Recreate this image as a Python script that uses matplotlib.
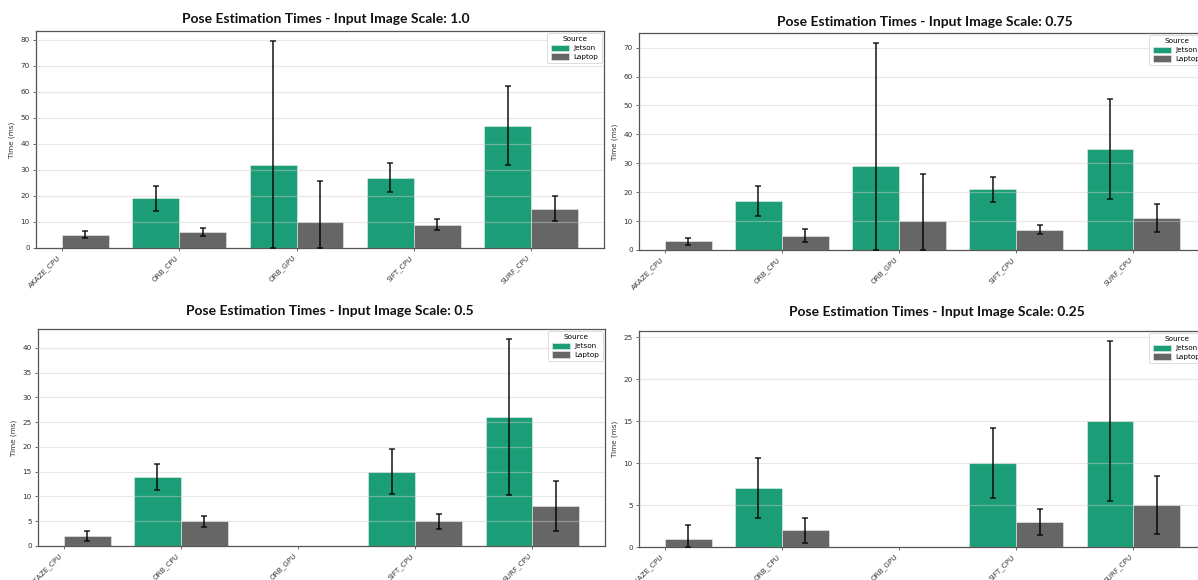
import numpy as np
import matplotlib
matplotlib.use("Agg")
import matplotlib.pyplot as plt
from matplotlib.ticker import MultipleLocator

plt.rcParams["font.family"] = ["DejaVu Sans"]

# pose estimation timings (ms), mean and std per method and device
methods = ["AKAZE_CPU", "ORB_CPU", "ORB_GPU", "SIFT_CPU", "SURF_CPU"]
scales = ["1.0", "0.75", "0.5", "0.25"]

jetson_mean = {
    "1.0": [np.nan, 19, 32, 27, 47],
    "0.75": [np.nan, 17, 29, 21, 35],
    "0.5": [np.nan, 14, np.nan, 15, 26],
    "0.25": [np.nan, 7, np.nan, 10, 15],
}
jetson_std = {
    "1.0": [np.nan, 4.7, 47.3, 5.7, 15.3],
    "0.75": [np.nan, 5.1, 42.5, 4.3, 17.4],
    "0.5": [np.nan, 2.6, np.nan, 4.6, 15.7],
    "0.25": [np.nan, 3.55, np.nan, 4.15, 9.5],
}
laptop_mean = {
    "1.0": [5, 6, 10, 9, 15],
    "0.75": [3, 5, 10, 7, 11],
    "0.5": [2, 5, np.nan, 5, 8],
    "0.25": [1, 2, np.nan, 3, 5],
}
laptop_std = {
    "1.0": [1.35, 1.5, 15.6, 2.2, 4.8],
    "0.75": [1.15, 2.1, 16.3, 1.6, 4.9],
    "0.5": [1.05, 1.1, np.nan, 1.5, 5.05],
    "0.25": [1.58, 1.5, np.nan, 1.55, 3.45],
}

JETSON = "#1b9e77"
LAPTOP = "#666666"

W, H = 1198, 580
fig = plt.figure(figsize=(W / 100, H / 100), dpi=100)


def px_axes(left, top, right, bottom):
    return fig.add_axes([left / W, 1 - bottom / H, (right - left) / W, (bottom - top) / H])


# axes boxes in pixels: left, top, right, bottom
boxes = {
    "1.0": (36, 31, 604, 248),
    "0.75": (639, 33, 1206, 250),
    "0.5": (38, 329, 605, 546),
    "0.25": (639, 331, 1206, 547),
}
title_pos = {"1.0": (326, 19), "0.75": (925, 22), "0.5": (330, 311), "0.25": (937, 312)}
ystep = {"1.0": 10, "0.75": 10, "0.5": 5, "0.25": 5}


def draw_bars(ax, xs, means, stds, color, label):
    xs = np.asarray(xs, float)
    means = np.asarray(means, float)
    stds = np.asarray(stds, float)
    ok = ~np.isnan(means)
    ax.bar(xs[ok], means[ok], width=0.4, color=color, edgecolor="#e8f0ec",
           linewidth=0.4, label=label, zorder=2)
    lower = np.minimum(stds[ok], means[ok])
    ax.errorbar(xs[ok], means[ok], yerr=[lower, stds[ok]], fmt="none",
                ecolor="black", elinewidth=1.2, capsize=2.5, capthick=1.1,
                alpha=0.85, zorder=3)


x = np.arange(len(methods))
for s in scales:
    ax = px_axes(*boxes[s])
    draw_bars(ax, x - 0.2, jetson_mean[s], jetson_std[s], JETSON, "Jetson")
    draw_bars(ax, x + 0.2, laptop_mean[s], laptop_std[s], LAPTOP, "Laptop")

    ax.set_xticks(x)
    ax.set_xticklabels(methods, rotation=45, ha="right", fontsize=5.2, color="#333333")
    ax.yaxis.set_major_locator(MultipleLocator(ystep[s]))
    ax.tick_params(axis="y", labelsize=5.2, labelcolor="#333333", length=2.5, width=0.6,
                   color="#555555", pad=2)
    ax.tick_params(axis="x", length=2.5, width=0.6, color="#555555", pad=2)
    ax.set_ylabel("Time (ms)", fontsize=5.2, color="#333333", labelpad=4)
    ax.grid(axis="y", color="#cccccc", linewidth=0.9, alpha=0.45, zorder=4)
    ax.set_axisbelow(False)
    for sp in ax.spines.values():
        sp.set_color("#555555")
        sp.set_linewidth(0.9)

    leg = ax.legend(title="Source", fontsize=5.2, title_fontsize=5.2, loc="upper right",
                    handlelength=2.6, handleheight=1.0, borderpad=0.45,
                    labelspacing=0.3, borderaxespad=0.3, handletextpad=0.6,
                    framealpha=0.9)
    leg.get_frame().set_linewidth(0.5)
    leg.get_frame().set_edgecolor("#cccccc")

    tx, ty = title_pos[s]
    fig.text(tx / W, 1 - ty / H, "Pose Estimation Times - Input Image Scale: " + s,
             ha="center", va="center", fontsize=10, fontweight="bold",
             family=["Lato", "DejaVu Sans"], color="#111111")

fig.savefig("out.png", dpi=100)
